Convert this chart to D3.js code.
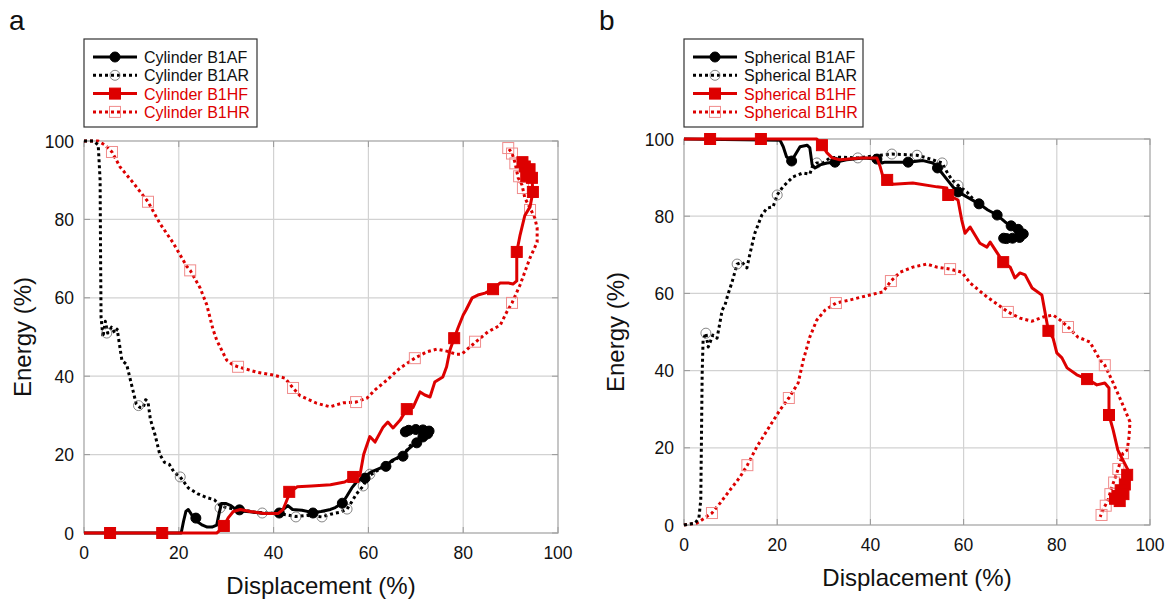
<!DOCTYPE html>
<html>
<head>
<meta charset="utf-8">
<script src="https://cdn.jsdelivr.net/npm/d3@7"></script>
<style>
body { margin: 0; background: #fff; }
text { font-family: Arial, "Liberation Sans", sans-serif; }
</style>
</head>
<body>
<svg class="main" width="1171" height="606"></svg>
<script>
var RED = "#dd0000";
var PINK = "#f08c8c";

var xTicks = [0, 20, 40, 60, 80, 100];
var yTicks = [0, 20, 40, 60, 80, 100];

// ---- panel a : cylinder ----
var cylAF = [[0,0],[20.5,0],[21,3],[21.5,5.5],[22,6],[22.8,4.5],[24,2.8],[25,2],[26,1.5],[27,1.5],[28,2],[28.5,5],[29,7.5],[30,7.5],[31,7],[32,6],[33,5.6],[35,5.4],[38,5],[41,5.1],[42,6],[43,7],[44,6],[46,5.8],[48.3,5.2],[50,5.5],[52,6],[53,6.5],[54.5,7.6],[55.5,9.5],[56.5,11.5],[57.5,13],[59.3,14.5],[60.5,15.5],[62,16.3],[63.7,17.2],[65,18.5],[67.3,19.8],[68.5,21.5],[70.2,23.2],[71.5,24.6],[72.5,25.3],[73.3,25.8],[72.5,26.3],[70.5,26.5],[68.5,26.3],[67.7,25.7]];
var cylAFm = [[23.6,3.8],[32.8,5.9],[41.2,5.1],[48.3,5.1],[54.5,7.6],[59.3,14],[63.7,17],[67.3,19.6],[70.2,23],[71.5,24.5],[72.5,25.3],[72.8,26],[71.5,26.3],[70,26.4],[68.5,26.2],[67.8,25.8]];

var cylAR = [[0,100],[2,100],[3,99],[3.4,90],[3.5,70],[3.6,55],[4,50],[4.5,54],[5,51],[5.8,52.5],[6.5,51],[7,52],[8,44],[9,43],[10,38],[11,33],[11.8,32],[12.5,32],[13,34],[13.5,33.5],[14,29],[15,25],[16,20],[17,18],[18,17.5],[19,15.5],[20.3,14.3],[22,11.5],[24,10],[26,9],[27.5,8.5],[28.7,7],[30,6.5],[32,6],[34,5.8],[36,5.3],[38,5.1],[40,5],[42,4.8],[44.7,4.2],[47,4.5],[50.2,4.1],[52,4.8],[54,5.3],[55.5,6.1],[56.5,8],[57.5,10],[58.9,12],[60,14.5],[62,16],[64,17.5],[66,19],[68,21],[70,24]];
var cylARm = [[4.8,51],[11.5,32.5],[20.3,14.3],[28.7,6.4],[37.6,5.1],[44.7,4.1],[50.2,4.1],[55.5,6.1],[58.9,12],[60.3,15]];

var cylHF = [[0,0],[28,0],[29,1],[29.5,1.8],[30.5,4],[31.5,5.5],[33,6],[35,5.5],[38,5],[41,5],[42,6],[43,9],[43.5,10.5],[45,11.8],[48,12],[52,12.3],[55,13],[56.8,14.3],[58.2,14.6],[59,20],[60.3,24.6],[61.4,23.2],[63.1,27],[64.1,28.3],[65.2,26.8],[66.7,28.8],[68.1,31.6],[69.4,32],[70.9,36],[71.9,35.2],[73,34.7],[74,38.5],[75.7,39.8],[76.5,42.4],[77.2,46.7],[78.1,49.7],[78.9,52.3],[80,55.6],[80.6,56.9],[81.9,60],[83.1,60.7],[84.6,61.2],[86.3,62.2],[87.8,63.8],[89.5,63.8],[90.5,63.5],[91.3,64.3],[91.3,71.7],[92,76],[93,81],[94.1,83.2],[94.7,87],[94.5,90.6],[93.7,92],[93,93.9],[92.5,95]];
var cylHFm = [[5.5,0],[16.5,0],[29.5,1.8],[43.3,10.5],[56.8,14.3],[68.1,31.6],[78.1,49.7],[86.3,62.2],[91.3,71.7],[94.7,87],[94.5,90.6],[93.6,92],[93,93.5],[92.5,94.6],[94,92.8],[93.3,91]];

var cylHR = [[0,100],[3,100],[4.4,99],[5.9,97.2],[7.6,93.4],[10.4,89.3],[13.5,84.5],[16,79],[18.8,74],[21.7,68],[22.4,67],[24.5,62.5],[25.9,58.2],[27.2,52],[28,49.2],[30.1,44.1],[31.4,42.9],[32.5,42.4],[36.5,41],[39.9,40.3],[42.4,39.5],[44.1,37],[45.6,35],[49.1,33.1],[51.9,32.2],[54.7,33.2],[57.4,33.4],[59.7,34.4],[61.4,36.5],[63.9,39],[66.7,42.1],[69.8,44.6],[72.3,46.2],[74.4,46.9],[76.5,46.4],[78.6,45.6],[79.7,45.6],[80.7,46.7],[82.7,48.8],[85.2,51.3],[87.8,53],[89.2,56.4],[90.3,58.7],[92,63.3],[94.1,70.2],[95.6,74.2],[95.6,77.8],[95.1,80.4],[94.3,82.4],[93,85.5],[92.4,88.8],[91.6,90.6],[90.9,94.6],[90.3,96.9],[89.5,98.2]];
var cylHRm = [[5.9,97.2],[13.5,84.5],[22.4,67],[32.5,42.4],[44.1,37],[57.4,33.4],[69.8,44.6],[82.5,48.8],[90.3,58.7],[94.1,82.4],[92.6,88],[91.8,91],[91,94.3],[90.3,96.8],[89.5,98.2]];

// ---- panel b : spherical ----
var sphAF = [[0,100],[20.6,99.7],[21.3,98],[22,95.4],[23.1,94.3],[23.8,95.8],[24.9,98],[26.4,98.4],[27,97.7],[27.5,93.3],[28.1,92.5],[29.2,93.3],[30.7,93.8],[32.4,94],[34.9,94.6],[38.4,95.1],[41.4,94.8],[42.5,93.8],[43.1,94],[44.9,94],[48.1,94],[51.3,94.4],[53.4,93.8],[54.5,92.5],[56,90.2],[57.7,87.6],[58.8,86.3],[60.7,85],[63.3,83.2],[65.2,81.6],[67.2,80.3],[68.9,78.5],[70.2,77.5],[71.7,76.9],[73.2,75.1],[72.5,74.4],[70.6,74.4],[68.5,74.1]];
var sphAFm = [[23.1,94.3],[32.4,94],[41.4,94.8],[48.1,94],[54.4,92.5],[58.8,86.3],[63.3,83.2],[67.2,80.3],[70.2,77.5],[71.7,76.6],[72.8,75.4],[72,74.5],[70.5,74.3],[69.2,74.2],[68.6,74.3]];

var sphAR = [[0,0],[2.4,0.5],[3.2,1.8],[3.6,6.5],[3.9,39.4],[4.1,47.9],[4.7,49.7],[5.2,46.1],[6.2,49.2],[7.1,48.4],[8.2,55.7],[8.8,57],[9.4,59.6],[10.3,62.9],[11.4,67.6],[12.4,68.1],[13.5,66.6],[14.2,70.5],[15.2,75.6],[16.7,80.3],[17.8,82.1],[19.1,82.4],[20,85.5],[21.2,87.6],[23.4,90.2],[25.5,91.2],[27,90.9],[27.5,92.7],[28.5,93.8],[29.8,93.8],[31.3,95.1],[33.5,95.3],[37.3,95.1],[40.6,95.6],[44.6,96.1],[50,95.8],[52.1,95.1],[55.4,93.8],[56.4,91.5],[57.5,89.4],[58.8,88],[60.7,86.3],[62,84.5]];
var sphARm = [[4.7,49.7],[11.4,67.6],[20,85.5],[28.5,93.8],[37.3,95.1],[44.6,96.1],[50,95.8],[55.4,93.8],[58.8,88]];

var sphHF = [[0,100],[28.5,100],[29.6,98.4],[30.7,96.4],[31.8,95.1],[33.5,94.6],[37.8,95.1],[41.4,95.1],[42.1,92.8],[42.7,90.2],[43.6,89.4],[44.9,88.3],[49.1,88.6],[54.3,87.6],[56.4,87.3],[56.7,85.5],[58.8,84.2],[59.6,79],[60.3,75.6],[61.4,77.2],[63.5,73],[65,72],[65.7,73.3],[67.1,70.7],[68.5,68.1],[70,66.8],[71,64],[72.1,65.3],[73.2,64.8],[74.7,61.4],[76.8,59.6],[77.5,54.9],[78.2,50.3],[79.2,48.4],[80,44.6],[81.1,43.3],[82.2,40.7],[84.3,38.9],[86.5,37.8],[88.6,36.3],[90.3,36.8],[91.2,35.5],[91.2,28.5],[92.1,24.6],[93.1,19.4],[94.2,16.8],[95.3,14.2],[95.1,12],[94.5,9.5],[93.5,7.5],[92.5,6.5]];
var sphHFm = [[5.6,100],[16.5,100],[29.6,98.4],[43.6,89.4],[56.7,85.5],[68.5,68.1],[78.2,50.3],[86.5,37.8],[91.2,28.5],[95.1,13],[94.6,10.5],[93.7,9],[93,7.5],[94.3,8],[92.5,6.8],[93.5,6.2]];

var sphHR = [[0,0],[2.8,0.5],[6,3.1],[7.7,5.6],[9.9,9.1],[12,12.4],[13.6,15.5],[15.6,20.2],[18.5,25.8],[20.6,29.8],[22.5,32.9],[24.5,36.8],[25.6,42.7],[27,48.7],[28.5,53.1],[30.3,55.7],[32.6,57.5],[35.6,58.3],[39.9,59.6],[42.7,60.4],[44.4,63.2],[46.4,65.5],[49.1,66.8],[52.1,67.6],[54.3,66.8],[57.1,66.3],[59.6,65.5],[61.4,62.7],[65,59.1],[69.5,55.2],[72.1,53.6],[74.7,52.8],[77.1,53.9],[79.2,54.4],[80.7,53.1],[82.4,51.3],[84.5,48.7],[87.1,47.4],[89.3,42.7],[90.3,41.4],[92.1,36.8],[94,31.6],[95.7,26.7],[95.5,22.8],[95.1,19.4],[94.2,18.6],[92.9,13.5],[91.8,9.8],[91,6.5],[89.9,3.9],[89.3,2.1]];
var sphHRm = [[6,3.1],[13.6,15.5],[22.5,32.9],[32.6,57.5],[44.4,63.2],[57.1,66.3],[69.5,55.2],[82.4,51.3],[90.3,41.4],[94.2,18.6],[93.2,14.5],[92.3,11],[91.5,8],[90.5,5],[89.6,2.6]];

var svg = d3.select("svg.main");

function drawPanel(p) {
    var x = d3.scaleLinear().domain([0, 100]).range([p.left, p.right]);
    var y = d3.scaleLinear().domain([0, 100]).range([p.bottom, p.top]);
    var g = svg.append("g");

    // grid
    g.selectAll("line.gx").data(xTicks.slice(1, -1)).enter().append("line")
        .attr("x1", d => x(d)).attr("x2", d => x(d))
        .attr("y1", p.top).attr("y2", p.bottom)
        .attr("stroke", "#d2d2d2").attr("stroke-width", 1.2);
    g.selectAll("line.gy").data(yTicks.slice(1, -1)).enter().append("line")
        .attr("y1", d => y(d)).attr("y2", d => y(d))
        .attr("x1", p.left).attr("x2", p.right)
        .attr("stroke", "#d2d2d2").attr("stroke-width", 1.2);

    // inner ticks on all four sides
    var tk = 6;
    xTicks.forEach(function (t) {
        g.append("line").attr("x1", x(t)).attr("x2", x(t)).attr("y1", p.bottom).attr("y2", p.bottom - tk).attr("stroke", "#999");
        g.append("line").attr("x1", x(t)).attr("x2", x(t)).attr("y1", p.top).attr("y2", p.top + tk).attr("stroke", "#999");
    });
    yTicks.forEach(function (t) {
        g.append("line").attr("y1", y(t)).attr("y2", y(t)).attr("x1", p.left).attr("x2", p.left + tk).attr("stroke", "#999");
        g.append("line").attr("y1", y(t)).attr("y2", y(t)).attr("x1", p.right).attr("x2", p.right - tk).attr("stroke", "#999");
    });

    g.append("rect")
        .attr("x", p.left).attr("y", p.top)
        .attr("width", p.right - p.left).attr("height", p.bottom - p.top)
        .attr("fill", "none").attr("stroke", "#a0a0a0").attr("stroke-width", 1.2);

    // tick labels
    g.selectAll("text.xt").data(xTicks).enter().append("text")
        .attr("x", d => x(d)).attr("y", p.bottom + 26)
        .attr("text-anchor", "middle").attr("font-size", 17.5).attr("fill", "#111")
        .text(d => d);
    g.selectAll("text.yt").data(yTicks).enter().append("text")
        .attr("x", p.left - 10).attr("y", d => y(d) + 6.5)
        .attr("text-anchor", "end").attr("font-size", 17.5).attr("fill", "#111")
        .text(d => d);

    // axis titles
    g.append("text").attr("x", (p.left + p.right) / 2).attr("y", p.bottom + 61)
        .attr("text-anchor", "middle").attr("font-size", 24).attr("fill", "#111")
        .text("Displacement (%)");
    g.append("text")
        .attr("transform", "translate(" + p.yTitleX + "," + ((p.top + p.bottom) / 2) + ") rotate(-90)")
        .attr("text-anchor", "middle").attr("font-size", 24).attr("fill", "#111")
        .text("Energy (%)");

    // panel letter
    g.append("text").attr("x", p.letterX).attr("y", 30)
        .attr("font-size", 28).attr("fill", "#111").text(p.letter);

    var line = d3.line().x(d => x(d[0])).y(d => y(d[1]));

    var series = p.series;
    series.forEach(function (s) {
        g.append("path").datum(s.data)
            .attr("d", line)
            .attr("fill", "none")
            .attr("stroke", s.color)
            .attr("stroke-width", 3)
            .attr("stroke-linejoin", "round")
            .attr("stroke-dasharray", s.dashed ? "3,3" : null);
        drawMarkers(g, s, s.marks.map(d => [x(d[0]), y(d[1])]));
    });

    // legend
    var lg = svg.append("g");
    lg.append("rect")
        .attr("x", p.left).attr("y", 39)
        .attr("width", p.legendW).attr("height", 88)
        .attr("fill", "#fff").attr("stroke", "#333").attr("stroke-width", 1.2);
    series.slice().sort((a, b) => a.order - b.order).forEach(function (s, i) {
        var ly = 57 + i * 18.3;
        var lx1 = p.left + 9, lx2 = p.left + 53;
        lg.append("line")
            .attr("x1", lx1).attr("x2", lx2).attr("y1", ly).attr("y2", ly)
            .attr("stroke", s.color).attr("stroke-width", 3)
            .attr("stroke-dasharray", s.dashed ? "3,3" : null);
        drawMarkers(lg, s, [[(lx1 + lx2) / 2, ly]]);
        lg.append("text").attr("x", p.left + 60).attr("y", ly + 6)
            .attr("font-size", 16).attr("fill", s.textColor)
            .text(s.name);
    });
}

function drawMarkers(g, s, pts) {
    pts.forEach(function (pt) {
        if (s.shape == "circle") {
            g.append("circle").attr("cx", pt[0]).attr("cy", pt[1]).attr("r", 5)
                .attr("fill", s.filled ? "#000" : "none")
                .attr("stroke", s.filled ? "#000" : "#777")
                .attr("stroke-width", s.filled ? 1 : 0.9);
        } else {
            var h = 5.5;
            g.append("rect").attr("x", pt[0] - h).attr("y", pt[1] - h)
                .attr("width", 2 * h).attr("height", 2 * h)
                .attr("fill", s.filled ? RED : "none")
                .attr("stroke", s.filled ? RED : PINK)
                .attr("stroke-width", 1);
        }
    });
}

// drawing order: HR, AR, AF, HF ; legend order via 'order'
function makeSeries(prefix, af, afm, ar, arm, hf, hfm, hr, hrm) {
    return [
        { name: prefix + " B1HR", data: hr, marks: hrm, color: RED, textColor: RED, dashed: true, shape: "square", filled: false, order: 3 },
        { name: prefix + " B1AR", data: ar, marks: arm, color: "#000", textColor: "#111", dashed: true, shape: "circle", filled: false, order: 1 },
        { name: prefix + " B1AF", data: af, marks: afm, color: "#000", textColor: "#111", dashed: false, shape: "circle", filled: true, order: 0 },
        { name: prefix + " B1HF", data: hf, marks: hfm, color: RED, textColor: RED, dashed: false, shape: "square", filled: true, order: 2 }
    ];
}

drawPanel({
    left: 84, right: 558, top: 141, bottom: 533, letter: "a", letterX: 9, legendW: 173, yTitleX: 31,
    series: makeSeries("Cylinder", cylAF, cylAFm, cylAR, cylARm, cylHF, cylHFm, cylHR, cylHRm)
});
drawPanel({
    left: 684, right: 1150, top: 139, bottom: 525, letter: "b", letterX: 599, legendW: 179, yTitleX: 624,
    series: makeSeries("Spherical", sphAF, sphAFm, sphAR, sphARm, sphHF, sphHFm, sphHR, sphHRm)
});
</script>
</body>
</html>
